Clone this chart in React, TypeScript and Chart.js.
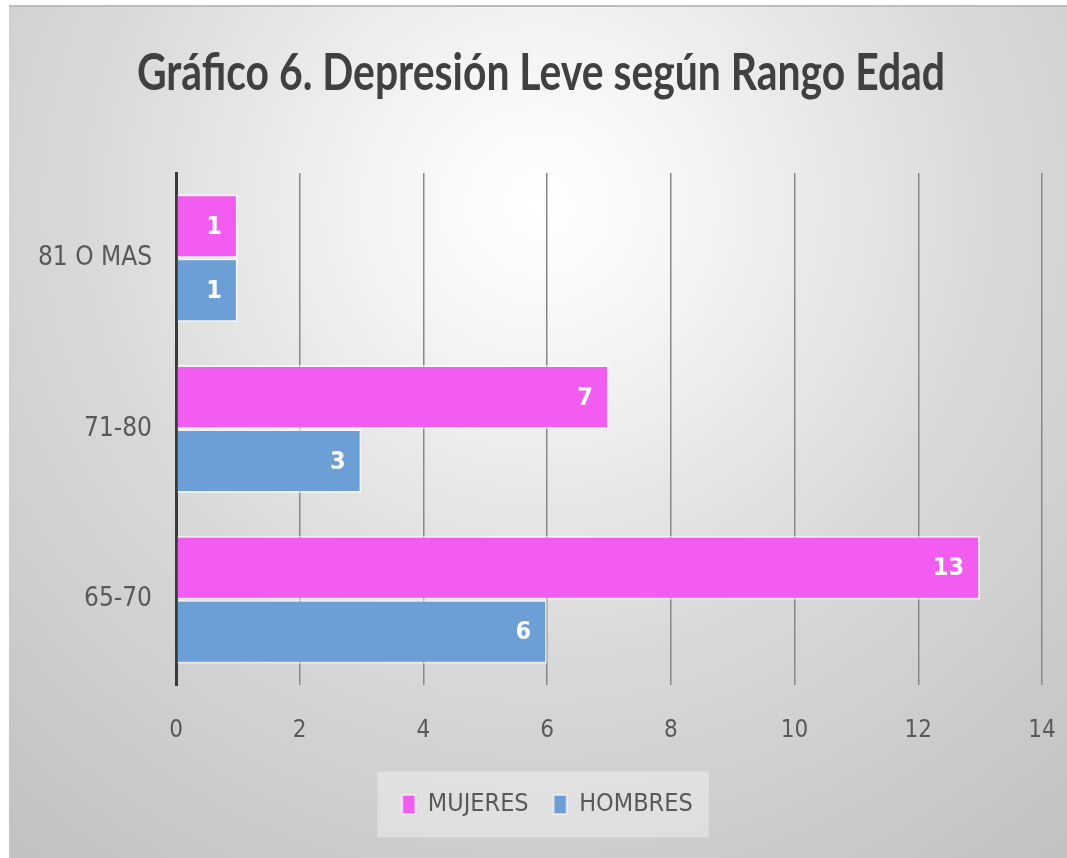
import React, { useEffect, useRef } from "react";
import { Chart, registerables } from "chart.js";

Chart.register(...registerables);

const categories = ["81 O MAS", "71-80", "65-70"];
const mujeres = [1, 7, 13];
const hombres = [1, 3, 6];
const seriesNames = ["MUJERES", "HOMBRES"];
const xTicks = [0, 2, 4, 6, 8, 10, 12, 14];
const titleText = "Gráfico 6. Depresión Leve según Rango Edad";

const NARROW = '"DejaVu Sans Condensed", "Liberation Sans Narrow", sans-serif';
const TITLE_FONT = 'Lato, "Open Sans", sans-serif';
const PINK = "#f35cf0";
const BLUE = "#6b9fd5";
const TEXT = "#595959";

const W = 1058;
const H = 853;

const backgroundPlugin = {
  id: "bgPlugin",
  afterLayout(chart: any) {
    const lg = chart.legend;
    if (lg) {
      lg.left += 22;
      lg.right += 22;
    }
  },
  beforeDraw(chart: any) {
    const ctx = chart.ctx;
    ctx.save();
    const g = ctx.createRadialGradient(530, 200, 0, 530, 200, 820);
    g.addColorStop(0, "#ffffff");
    g.addColorStop(0.18, "#f5f5f5");
    g.addColorStop(0.55, "#d9d9d9");
    g.addColorStop(1, "#c2c2c2");
    ctx.fillStyle = g;
    ctx.fillRect(0, 0, chart.width, chart.height);
    ctx.fillStyle = "#bdbdbd";
    ctx.fillRect(0, 0, chart.width, 2);
    const boxes = chart.legend && chart.legend.legendHitBoxes;
    if (boxes && boxes.length) {
      let l = Infinity, r = -Infinity, t = Infinity, b = -Infinity;
      for (const h of boxes) {
        l = Math.min(l, h.left);
        r = Math.max(r, h.left + h.width);
        t = Math.min(t, h.top);
        b = Math.max(b, h.top + h.height);
      }
      const cy = (t + b) / 2;
      ctx.fillStyle = "rgba(245,245,245,0.45)";
      ctx.fillRect(l - 25, cy - 33, r - l + 41, 66);
    }
    ctx.restore();
  },
};

const titlePlugin = {
  id: "stretchTitle",
  afterDraw(chart: any) {
    const ctx = chart.ctx;
    ctx.save();
    ctx.font = `bold 52px ${TITLE_FONT}`;
    const w = ctx.measureText(titleText).width;
    const sx = 808 / w;
    ctx.translate(532, 85);
    ctx.scale(sx, 1);
    ctx.fillStyle = "#404040";
    ctx.textAlign = "center";
    ctx.textBaseline = "alphabetic";
    ctx.fillText(titleText, 0, 0);
    ctx.restore();
  },
};

const valueLabelPlugin = {
  id: "valueLabels",
  afterDatasetsDraw(chart: any) {
    const ctx = chart.ctx;
    ctx.save();
    ctx.font = `bold 25px ${NARROW}`;
    ctx.fillStyle = "#ffffff";
    ctx.textAlign = "right";
    ctx.textBaseline = "middle";
    chart.data.datasets.forEach((ds: any, i: number) => {
      const meta = chart.getDatasetMeta(i);
      meta.data.forEach((bar: any, j: number) => {
        ctx.fillText(String(ds.data[j]), bar.x - 16, bar.y + 1);
      });
    });
    ctx.restore();
  },
};

export default function App() {
  const ref = useRef<HTMLCanvasElement | null>(null);

  useEffect(() => {
    document.body.style.margin = "0";
    const canvas = ref.current;
    if (!canvas) return;
    const chart = new Chart(canvas, {
      type: "bar",
      data: {
        labels: categories,
        datasets: [
          {
            label: seriesNames[0],
            data: mujeres,
            backgroundColor: PINK,
            borderColor: "rgba(255,255,255,0.55)",
            borderWidth: 2,
            categoryPercentage: 0.75,
            barPercentage: 1,
          },
          {
            label: seriesNames[1],
            data: hombres,
            backgroundColor: BLUE,
            borderColor: "rgba(255,255,255,0.55)",
            borderWidth: 2,
            categoryPercentage: 0.75,
            barPercentage: 1,
          },
        ],
      },
      options: {
        indexAxis: "y",
        responsive: false,
        animation: false,
        devicePixelRatio: 1,
        layout: { padding: { top: 168, left: 0, right: 25, bottom: 31 } },
        plugins: {
          title: { display: false },
          tooltip: { enabled: false },
          legend: {
            display: true,
            position: "bottom",
            labels: {
              color: TEXT,
              font: { family: NARROW, size: 25 },
              boxWidth: 13,
              boxHeight: 19,
              padding: 25,
            },
          },
        },
        scales: {
          x: {
            type: "linear",
            min: 0,
            max: 14,
            afterBuildTicks: (s: any) => {
              s.ticks = xTicks.map((v) => ({ value: v }));
            },
            afterFit: (s: any) => {
              s.height = 82;
              s.paddingLeft = 0;
              s.paddingRight = 0;
            },
            grid: {
              drawTicks: false,
              color: (c: any) => (c.tick && c.tick.value === 0 ? "#3a3a3a" : "#888888"),
              lineWidth: (c: any) => (c.tick && c.tick.value === 0 ? 3 : 1.5),
            },
            border: { display: false },
            ticks: {
              color: TEXT,
              font: { family: NARROW, size: 24 },
              padding: 31,
            },
          },
          y: {
            afterFit: (s: any) => {
              s.width = 167;
            },
            grid: { display: false, drawTicks: false },
            border: { display: true, color: "#3a3a3a", width: 3 },
            ticks: {
              color: TEXT,
              font: { family: NARROW, size: 26 },
              padding: 24,
            },
          },
        },
      },
      plugins: [backgroundPlugin, titlePlugin, valueLabelPlugin],
    } as any);
    return () => chart.destroy();
  }, []);

  return (
    <div style={{ position: "fixed", left: 9, top: 5, width: W, height: H }}>
      <canvas ref={ref} width={W} height={H} style={{ display: "block", width: W, height: H }} />
    </div>
  );
}
